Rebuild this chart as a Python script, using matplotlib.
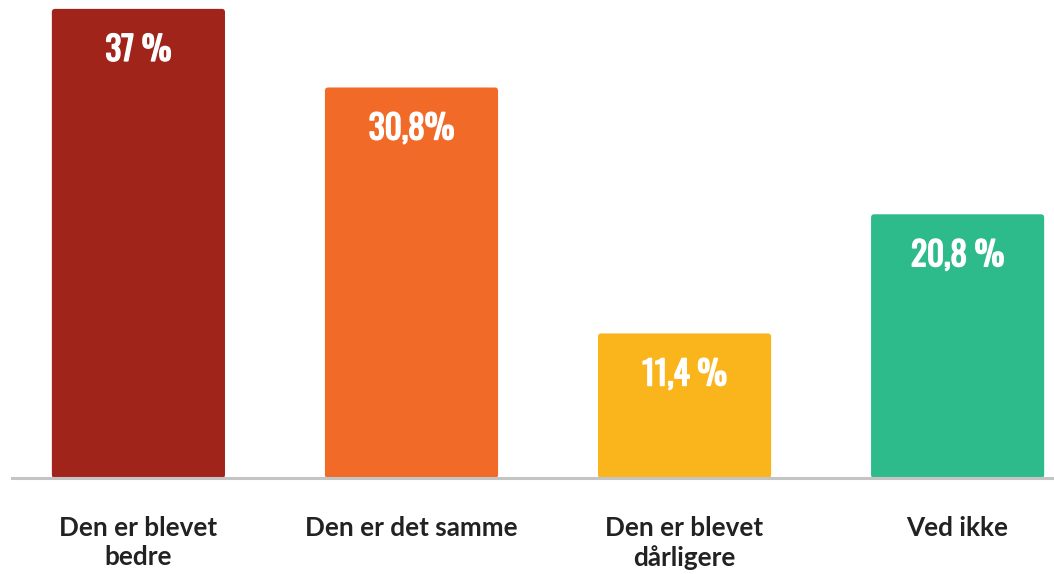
import matplotlib
matplotlib.use('Agg')
import matplotlib.pyplot as plt
import matplotlib.patheffects as pe
from matplotlib.patches import FancyBboxPatch

categories = ['Den er blevet\nbedre', 'Den er det samme', 'Den er blevet\ndårligere', 'Ved ikke']
values = [37.0, 30.8, 11.4, 20.8]
value_labels = ['37 %', '30,8%', '11,4 %', '20,8 %']
colors = ['#A0241A', '#F26A27', '#F9B51B', '#2EBB8B']

fig = plt.figure(figsize=(10.54, 5.74), dpi=100)
ax = fig.add_axes([12/1054, 96/574, 1 - 12/1054, 1 - 96/574])

x = list(range(len(values)))
bars = ax.bar(x, values, width=0.634, color=colors, zorder=2)

# swap plain bars for ones with slightly rounded corners
for b in bars:
    b.set_visible(False)
    p = FancyBboxPatch((b.get_x(), 0), b.get_width(), b.get_height(),
                       boxstyle='round,pad=0,rounding_size=0.012',
                       mutation_aspect=21.5, fc=b.get_facecolor(), ec='none', zorder=2)
    ax.add_patch(p)

# Oswald only comes in the regular cut here, so thicken it a bit
bold = [pe.withStroke(linewidth=1.1, foreground='white')]
for i, b in enumerate(bars):
    ax.annotate(value_labels[i], (b.get_x() + b.get_width()/2, b.get_height()),
                xytext=(0, -29.5), textcoords='offset points',
                ha='center', va='center', color='white',
                fontsize=24, fontweight='bold',
                family=['Oswald', 'DejaVu Sans'], path_effects=bold)

ax.set_xlim(-0.463, 3.353)
ax.set_ylim(0, 37.7)
for s in ['top', 'right', 'left']:
    ax.spines[s].set_visible(False)
ax.spines['bottom'].set_color('#C4C4C4')
ax.spines['bottom'].set_linewidth(2.2)
ax.spines['bottom'].set_zorder(3)
ax.set_yticks([])
ax.set_xticks(x)
ax.set_xticklabels(categories, fontsize=18.8, fontweight='bold', family='Lato',
                   color='#222222', linespacing=1.28)
ax.tick_params(axis='x', length=0, pad=27)

plt.savefig('out.png', dpi=100)
